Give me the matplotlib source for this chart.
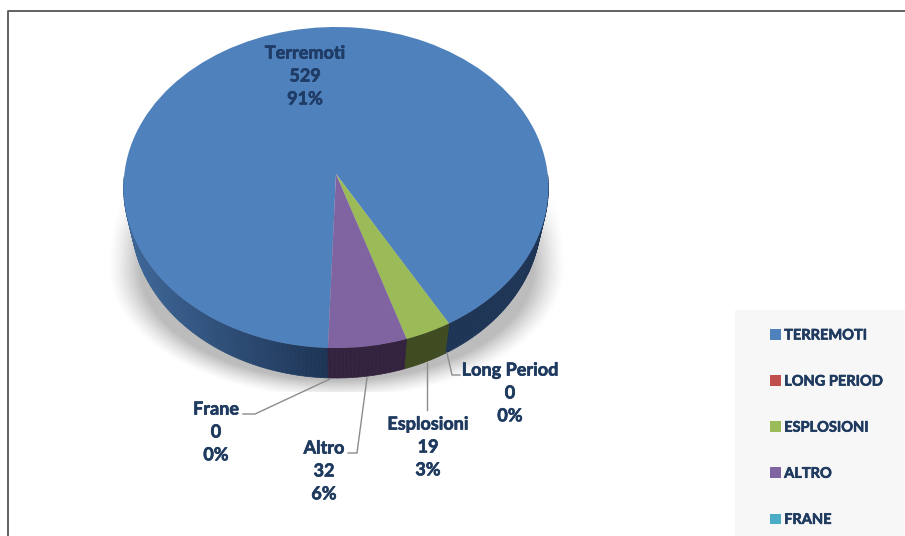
import numpy as np
import matplotlib
matplotlib.use('Agg')
import matplotlib.pyplot as plt
import matplotlib.patheffects as pe
from matplotlib.patches import Rectangle
from matplotlib.transforms import Transform

categories = ['Terremoti', 'Long Period', 'Esplosioni', 'Altro', 'Frane']
values = [529, 0, 19, 32, 0]
legend_labels = ['TERREMOTI', 'LONG PERIOD', 'ESPLOSIONI', 'ALTRO', 'FRANE']

colors = ['#4f81bd', '#c0504d', '#9bbb59', '#8064a2', '#4bacc6']
rim_colors = ['#1e3556', '#5a2524', '#3f4b21', '#33233f', '#1f4a55']
text_color = '#1f3a5f'

# pie geometry in pixels, the top face is a disc seen in perspective
cx, cy = 336, 174
R, b, k = 211.7, 159.4, 0.0841
depth = 30
rim_scale = 0.965


def project(xy):
    u, v = xy[:, 0], xy[:, 1]
    d = 1 + k * v
    return np.column_stack([cx + R * u / d, cy - b * v / d])


class DiscProjection(Transform):
    input_dims = 2
    output_dims = 2
    is_affine = False

    def transform_non_affine(self, values):
        return project(np.asarray(values, dtype=float))


plt.rcParams['font.family'] = ['Lato', 'DejaVu Sans']
heavier = [pe.withStroke(linewidth=0.45, foreground=text_color)]

fig = plt.figure(figsize=(9.05, 5.36), dpi=100)
ax = fig.add_axes([0, 0, 1, 1])

wedges, _ = ax.pie(values, colors=colors, startangle=-92, counterclock=False,
                   wedgeprops={'linewidth': 0})
proj = DiscProjection()
for w in wedges:
    w.set_transform(proj + ax.transData)
    w.set_zorder(5)

ax.set_aspect('auto')
ax.set_xlim(0, 905)
ax.set_ylim(536, 0)
ax.axis('off')

# soft shadow under the pie
yy, xx = np.mgrid[0:536, 0:905]
ry = np.where(yy < 268, 232.0, 130.0)
rho = np.sqrt(((xx - 336) / 228.0) ** 2 + ((yy - 268) / ry) ** 2)
alpha = np.clip((1 - rho) / 0.14, 0, 1) ** 1.3 * np.clip((yy - 175) / 60.0, 0, 1)
alpha[yy > 391] = 0
shadow = np.zeros((536, 905, 4))
shadow[..., :3] = 0.74
shadow[..., 3] = alpha
ax.imshow(shadow, extent=(0, 905, 536, 0), aspect='auto', zorder=1, interpolation='bilinear')
ax.set_xlim(0, 905)
ax.set_ylim(536, 0)

# side of the pie, blue part gets lighter to the left
left_rim = np.array(matplotlib.colors.to_rgb('#3d6697'))
right_rim = np.array(matplotlib.colors.to_rgb(rim_colors[0]))
for i, w in enumerate(wedges):
    if values[i] == 0:
        continue
    n = max(int(w.theta2 - w.theta1), 2)
    angles = np.radians(np.linspace(w.theta1, w.theta2, n + 1))
    top = project(np.column_stack([np.cos(angles), np.sin(angles)]))
    low = np.column_stack([cx + (top[:, 0] - cx) * rim_scale, top[:, 1] + depth])
    for j in range(n):
        if np.sin(angles[j]) > 0.0 or np.sin(angles[j + 1]) > 0.0:
            continue  # back of the pie, hidden by the top face
        poly = np.vstack([top[j:j + 2], low[j:j + 2][::-1]])
        col = rim_colors[i]
        if i == 0:
            t = np.clip((poly[:, 0].mean() - 135) / 190.0, 0, 1)
            col = tuple(left_rim * (1 - t) + right_rim * t)
        ax.fill(poly[:, 0], poly[:, 1], color=col, linewidth=0.5, zorder=3)

# frame of the original picture
ax.plot([8, 8, 905], [536, 11, 11], color='#555555', linewidth=1.3, zorder=2)

# leader lines
leaders = [
    ([447, 452, 460], [353, 375, 375]),
    ([427, 427], [363, 410]),
    ([367, 357, 348], [378, 453, 453]),
    ([330, 255, 243], [379, 414, 414]),
]
for lx, ly in leaders:
    ax.plot(lx, ly, color='#8c8c8c', linewidth=1.0, zorder=6)

# data labels
total = sum(values)
label_x = [510, 428, 324, 216]
label_y = [393, 447, 471, 432]
ax.text(305, 76, f'{categories[0]}\n{values[0]}\n{round(values[0] / total * 100)}%', ha='center', va='center',
        fontsize=13, fontweight='bold', color='#1f3c68', linespacing=1.42, zorder=7, path_effects=heavier)
for name, val, x, y in zip(categories[1:], values[1:], label_x, label_y):
    ax.text(x, y, f'{name}\n{val}\n{round(val / total * 100)}%', ha='center', va='center',
            fontsize=13, fontweight='bold', color=text_color, linespacing=1.42, zorder=7, path_effects=heavier)

# legend on its light panel
ax.add_patch(Rectangle((735, 310), 170, 226, facecolor='#f7f7f8', edgecolor='none', zorder=1))
leg = ax.legend(wedges, legend_labels, loc='upper left', bbox_to_anchor=(770 / 905, 1 - 328.5 / 536),
                frameon=False, handlelength=0.72, handleheight=0.72, handletextpad=0.25,
                labelspacing=2.2, borderpad=0, borderaxespad=0,
                prop={'size': 10.5, 'weight': 'bold'}, labelcolor=text_color)
leg.set_zorder(8)
for t in leg.get_texts():
    t.set_path_effects(heavier)

fig.savefig('out.png', dpi=100)
